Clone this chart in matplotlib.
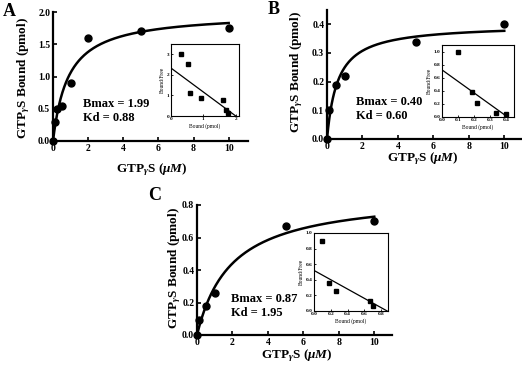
import matplotlib
matplotlib.use("Agg")
import matplotlib.pyplot as plt
import numpy as np

plt.rcParams['font.family'] = ['Liberation Serif', 'DejaVu Serif']
plt.rcParams['font.weight'] = 'bold'
plt.rcParams['mathtext.fontset'] = 'custom'
plt.rcParams['mathtext.rm'] = 'Liberation Serif:bold'
plt.rcParams['mathtext.it'] = 'Liberation Serif:bold:italic'
plt.rcParams['mathtext.bf'] = 'Liberation Serif:bold'

W, H = 522, 365

# ---------------- data ----------------
panel_letters = ["A", "B", "C"]

conc_A = [0, 0.1, 0.2, 0.5, 1, 2, 5, 10]
bound_A = [0, 0.30, 0.50, 0.55, 0.90, 1.60, 1.70, 1.75]
bmax_A, kd_A = 1.99, 0.88
sc_bound_A = [0.31, 0.53, 0.58, 0.92, 1.60, 1.71, 1.75]
sc_ratio_A = [3.0, 2.55, 1.13, 0.87, 0.78, 0.30, 0.17]
sc_line_A = ([0, 2.0], [2.33, 0])

conc_B = [0, 0.1, 0.5, 1, 5, 10]
bound_B = [0, 0.10, 0.19, 0.22, 0.34, 0.40]
bmax_B, kd_B = 0.40, 0.60
sc_bound_B = [0.10, 0.19, 0.22, 0.34, 0.40]
sc_ratio_B = [1.0, 0.38, 0.22, 0.068, 0.04]
sc_line_B = ([0, 0.41], [0.72, 0])

conc_C = [0, 0.1, 0.5, 1, 5, 10]
bound_C = [0, 0.09, 0.18, 0.26, 0.67, 0.70]
bmax_C, kd_C = 0.87, 1.95
sc_bound_C = [0.09, 0.18, 0.26, 0.67, 0.70]
sc_ratio_C = [0.90, 0.36, 0.26, 0.134, 0.07]
sc_line_C = ([0, 0.87], [0.52, 0])

# ---------------- layout helpers ----------------
fig = plt.figure(figsize=(W / 100, H / 100), dpi=100)


def ax_px(l, r, t, b):
    return fig.add_axes([l / W, (H - b) / H, (r - l) / W, (b - t) / H])


def txt(x, y, s, **kw):
    fig.text(x / W, (H - y) / H, s, **kw)


def main_panel(box, conc, bound, bmax, kd, xlim, ylim, yticks, yfmt):
    ax = ax_px(*box)
    xs = np.linspace(0, 10, 300)
    ax.plot(xs, bmax * xs / (kd + xs), color='black', lw=1.8, zorder=2)
    ax.plot(conc, bound, 'o', color='black', ms=5, zorder=3, clip_on=False)
    ax.set_xlim(*xlim)
    ax.set_ylim(*ylim)
    ax.set_xticks([0, 2, 4, 6, 8, 10])
    ax.set_yticks(yticks)
    ax.set_yticklabels([yfmt.format(v) for v in yticks])
    for s in ['top', 'right']:
        ax.spines[s].set_visible(False)
    for s in ['left', 'bottom']:
        ax.spines[s].set_linewidth(1.6)
    ax.tick_params(direction='in', length=3, width=1.2, labelsize=7, pad=2)
    for lab in ax.get_xticklabels() + ax.get_yticklabels():
        lab.set_fontweight('bold')
    return ax


def inset(box, xb, yr, line, xlim, ylim, xticks, yticks, xfmt, yfmt):
    ax = ax_px(*box)
    ax.plot(line[0], line[1], color='black', lw=0.9)
    ax.plot(xb, yr, 's', color='black', ms=2.6, clip_on=False)
    ax.set_xlim(*xlim)
    ax.set_ylim(*ylim)
    ax.set_xticks(xticks)
    ax.set_yticks(yticks)
    ax.set_xticklabels([xfmt.format(v) for v in xticks])
    ax.set_yticklabels([yfmt.format(v) for v in yticks])
    ax.tick_params(direction='in', length=1.5, width=0.6, labelsize=3.8, pad=1)
    for s in ax.spines.values():
        s.set_linewidth(0.8)
    ax.set_xlabel('Bound (pmol)', fontsize=4, labelpad=1.5)
    ax.set_ylabel('Bound/Free', fontsize=4, labelpad=1.5)
    return ax


ylab = r'GTP$_{\gamma}$S Bound (pmol)'
xlab = r'GTP$_{\gamma}$S ($\mathit{\mu M}$)'
LFS = 9.5

# Panel A
main_panel((53, 248, 12, 141), conc_A, bound_A, bmax_A, kd_A, (0, 11.1), (0, 2.0),
           [0.0, 0.5, 1.0, 1.5, 2.0], '{:.1f}')
inset((171, 239, 44, 116), sc_bound_A, sc_ratio_A, sc_line_A, (0, 2.1), (0, 3.5),
      [0, 1, 2], [0, 1, 2, 3], '{:d}', '{:d}')
txt(83, 104, 'Bmax = 1.99', fontsize=9, fontweight='bold', va='center')
txt(83, 118, 'Kd = 0.88', fontsize=9, fontweight='bold', va='center')
txt(24, 78, ylab, fontsize=LFS, fontweight='bold', rotation=90, ha='center', va='center')
txt(152, 170, xlab, fontsize=LFS, fontweight='bold', ha='center', va='center')
txt(3, 12, panel_letters[0], fontsize=13, fontweight='bold', va='center')

# Panel B
main_panel((327, 522, 10, 139), conc_B, bound_B, bmax_B, kd_B, (0, 11.0), (0, 0.45),
           [0.0, 0.1, 0.2, 0.3, 0.4], '{:.1f}')
inset((442, 514, 45, 117), sc_bound_B, sc_ratio_B, sc_line_B, (0, 0.45), (0, 1.1),
      [0.0, 0.1, 0.2, 0.3, 0.4], [0.0, 0.2, 0.4, 0.6, 0.8, 1.0], '{:.1f}', '{:.1f}')
txt(356, 102, 'Bmax = 0.40', fontsize=9, fontweight='bold', va='center')
txt(356, 116, 'Kd = 0.60', fontsize=9, fontweight='bold', va='center')
txt(297, 72, ylab, fontsize=LFS, fontweight='bold', rotation=90, ha='center', va='center')
txt(423, 159, xlab, fontsize=LFS, fontweight='bold', ha='center', va='center')
txt(268, 9, panel_letters[1], fontsize=13, fontweight='bold', va='center')

# Panel C
main_panel((197, 392, 205, 335), conc_C, bound_C, bmax_C, kd_C, (0, 11.0), (0, 0.8),
           [0.0, 0.2, 0.4, 0.6, 0.8], '{:.1f}')
inset((314, 388, 233, 311), sc_bound_C, sc_ratio_C, sc_line_C, (0, 0.88), (0, 1.0),
      [0.0, 0.2, 0.4, 0.6, 0.8], [0.0, 0.2, 0.4, 0.6, 0.8, 1.0], '{:.1f}', '{:.1f}')
txt(231, 299, 'Bmax = 0.87', fontsize=9, fontweight='bold', va='center')
txt(231, 313, 'Kd = 1.95', fontsize=9, fontweight='bold', va='center')
txt(175, 268, ylab, fontsize=LFS, fontweight='bold', rotation=90, ha='center', va='center')
txt(297, 356, xlab, fontsize=LFS, fontweight='bold', ha='center', va='center')
txt(148, 195, panel_letters[2], fontsize=13, fontweight='bold', va='center')

fig.savefig('out.png', dpi=100)
